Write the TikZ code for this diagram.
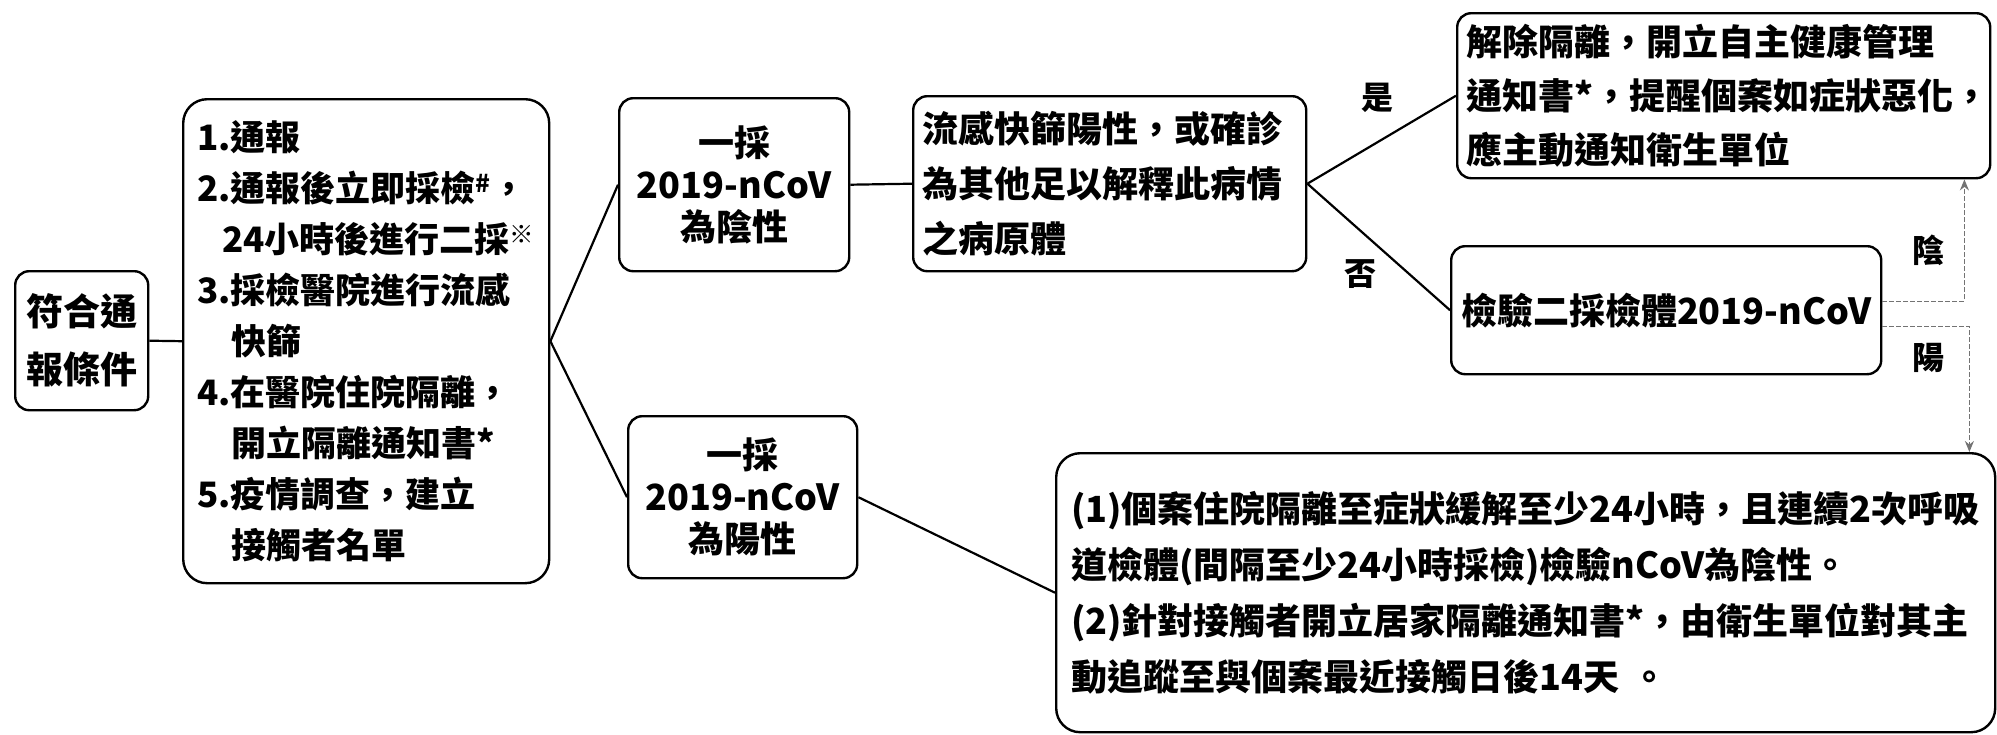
\documentclass[tikz,border=0pt]{standalone}
\usepackage{fontspec}
\setmainfont{Noto Sans CJK TC}
\usetikzlibrary{arrows.meta,calc}
\begin{document}
\begin{tikzpicture}[x=1pt,y=-1pt,
  box/.style={draw=black, line width=2.4pt, rounded corners=14pt, inner ysep=0pt},
  link/.style={line width=2.2pt},
  dasharrow/.style={draw=black!55, line width=1.3pt, dash pattern=on 5pt off 2pt, -{Stealth[length=11pt,width=9pt]}},
  lbl/.style={font=\bfseries\fontsize{32}{32}\selectfont, inner sep=0pt}]
\useasboundingbox[fill=white] (0,0) rectangle (1997,734);

\node[box, anchor=north west, minimum width=133pt, minimum height=139pt, align=center,
  font=\bfseries\fontsize{37}{58}\selectfont] (start) at (14,270) {符合通\\報條件};

\node[box, rounded corners=24pt, anchor=north west, text width=338pt, inner xsep=14pt,
  minimum height=484pt, align=left, font=\bfseries\fontsize{35}{51}\selectfont] (steps) at (182,98)
  {1.通報\\
   2.通報後立即採檢\textsuperscript{\#}，\\
   \hspace*{25pt}24小時後進行二採\textsuperscript{※}\\
   3.採檢醫院進行流感\\
   \hspace*{34pt}快篩\\
   4.在醫院住院隔離，\\
   \hspace*{34pt}開立隔離通知書*\\
   5.疫情調查，建立\\
   \hspace*{34pt}接觸者名單};

\node[box, anchor=north west, minimum width=230pt, minimum height=173pt, align=center,
  font=\bfseries\fontsize{36}{42}\selectfont] (neg1) at (618,97) {一採\\2019-nCoV\\為陰性};

\node[box, anchor=north west, minimum width=229pt, minimum height=162pt, align=center,
  font=\bfseries\fontsize{36}{42}\selectfont] (pos1) at (627,415) {一採\\2019-nCoV\\為陽性};

\node[box, anchor=north west, text width=375pt, inner xsep=9pt, minimum height=175pt, align=left,
  font=\bfseries\fontsize{36}{55}\selectfont] (flu) at (912,95)
  {流感快篩陽性，或確診\\為其他足以解釋此病情\\之病原體};

\node[box, anchor=north west, text width=515pt, inner xsep=9pt, minimum height=165pt, align=left,
  font=\bfseries\fontsize{36}{54}\selectfont] (rel) at (1456,12)
  {解除隔離，開立自主健康管理\\通知書*，提醒個案如症狀惡化，\\應主動通知衛生單位};

\node[box, anchor=north west, minimum width=430pt, minimum height=128pt, align=center,
  font=\bfseries\fontsize{36}{42}\selectfont] (chk) at (1450,245) {檢驗二採檢體2019-nCoV};

\node[box, rounded corners=24pt, anchor=north west, text width=909pt, inner xsep=15pt, minimum height=279pt, align=left,
  font=\bfseries\fontsize{36}{56}\selectfont] (iso) at (1055,452)
  {(1)個案住院隔離至症狀緩解至少24小時，且連續2次呼吸\\
   道檢體(間隔至少24小時採檢)檢驗nCoV為陰性。\\
   (2)針對接觸者開立居家隔離通知書*，由衛生單位對其主\\
   動追蹤至與個案最近接觸日後14天 。};

\draw[link] (start.east) -- (steps.west);
\draw[link] (steps.east) -- (neg1.west);
\draw[link] (steps.east) -- (pos1.west);
\draw[link] (neg1.east) -- (flu.west);
\draw[link] (flu.east) -- (rel.west);
\draw[link] (flu.east) -- (chk.west);
\draw[link] (pos1.east) -- (iso.west);

\node[lbl] (yes) at (1377,98) {是};
\node[lbl] (no) at (1360,274) {否};
\node[lbl] (neglbl) at (1928,250) {陰};
\node[lbl] (poslbl) at (1928,358) {陽};

\draw[dasharrow] ([yshift=9pt]chk.east) -| ([xshift=-27pt]rel.south east);
\draw[dasharrow] ([yshift=-16pt]chk.east) -| ([xshift=-27pt]iso.north east);
\end{tikzpicture}
\end{document}
